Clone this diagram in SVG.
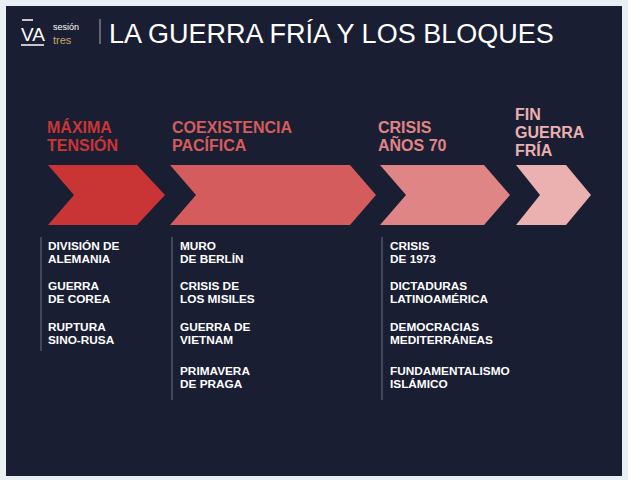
<svg xmlns="http://www.w3.org/2000/svg" width="628" height="480" viewBox="0 0 628 480">
<style>
text{font-family:"Liberation Sans",Arial,sans-serif;font-weight:bold}
.r{font-weight:normal}
.h{font-size:16px}
.b{font-size:11.8px;fill:#ffffff}
.ln{stroke:#6a6f85;stroke-width:1}
</style>
<rect width="628" height="480" fill="#e9eff3"/>
<rect x="6" y="6" width="616" height="470" fill="#1a1e33"/>
<g id="logo">
<text class="r" x="21" y="41" font-size="19" fill="#ffffff">VA</text>
<line x1="22" y1="20" x2="33" y2="20" stroke="#fff" stroke-width="1.5"/>
<line x1="21" y1="45" x2="44" y2="45" stroke="#fff" stroke-width="1.5"/>
<text class="r" x="53" y="30" font-size="9" fill="#ffffff">sesión</text>
<text class="r" x="53" y="44" font-size="11" fill="#c8a96a">tres</text>
<line x1="100" y1="19" x2="100" y2="44" stroke="#aaa" stroke-width="1"/>
</g>
<text id="title" class="r" x="109" y="43" font-size="27" fill="#ffffff">LA GUERRA FRÍA Y LOS BLOQUES</text>
<g id="n1">
<text class="h" fill="#c93535"><tspan x="47" y="133">MÁXIMA</tspan><tspan x="47" y="151">TENSIÓN</tspan></text>
<polygon points="48,165 137,165 165,195 137,225 48,225 74,195" fill="#c93535"/>
<line class="ln" x1="41" y1="237" x2="41" y2="351"/>
<text class="b"><tspan x="48" y="250">DIVISIÓN DE</tspan><tspan x="48" y="263">ALEMANIA</tspan><tspan x="48" y="290">GUERRA</tspan><tspan x="48" y="303">DE COREA</tspan><tspan x="48" y="331">RUPTURA</tspan><tspan x="48" y="344">SINO-RUSA</tspan></text>
</g>
<g id="n2">
<text class="h" fill="#d45c5c"><tspan x="172" y="133">COEXISTENCIA</tspan><tspan x="172" y="151">PACÍFICA</tspan></text>
<polygon points="170,165 350,165 376,195 350,225 170,225 196,195" fill="#d45c5c"/>
<line class="ln" x1="172" y1="237" x2="172" y2="400"/>
<text class="b"><tspan x="180" y="250">MURO</tspan><tspan x="180" y="263">DE BERLÍN</tspan><tspan x="180" y="290">CRISIS DE</tspan><tspan x="180" y="303">LOS MISILES</tspan><tspan x="180" y="331">GUERRA DE</tspan><tspan x="180" y="344">VIETNAM</tspan><tspan x="180" y="375">PRIMAVERA</tspan><tspan x="180" y="388">DE PRAGA</tspan></text>
</g>
<g id="n3">
<text class="h" fill="#e08585"><tspan x="378" y="133">CRISIS</tspan><tspan x="378" y="151">AÑOS 70</tspan></text>
<polygon points="380,165 484,165 510,195 484,225 380,225 406,195" fill="#e08585"/>
<line class="ln" x1="382" y1="237" x2="382" y2="400"/>
<text class="b"><tspan x="390" y="250">CRISIS</tspan><tspan x="390" y="263">DE 1973</tspan><tspan x="390" y="290">DICTADURAS</tspan><tspan x="390" y="303">LATINOAMÉRICA</tspan><tspan x="390" y="331">DEMOCRACIAS</tspan><tspan x="390" y="344">MEDITERRÁNEAS</tspan><tspan x="390" y="375">FUNDAMENTALISMO</tspan><tspan x="390" y="388">ISLÁMICO</tspan></text>
</g>
<g id="n4">
<text class="h" fill="#ebb0b0"><tspan x="515" y="120">FIN</tspan><tspan x="515" y="138">GUERRA</tspan><tspan x="515" y="156">FRÍA</tspan></text>
<polygon points="516,165 566,165 591,195 566,225 516,225 540,195" fill="#ebb0b0"/>
</g>
<g id="connectors"/>
</svg>
